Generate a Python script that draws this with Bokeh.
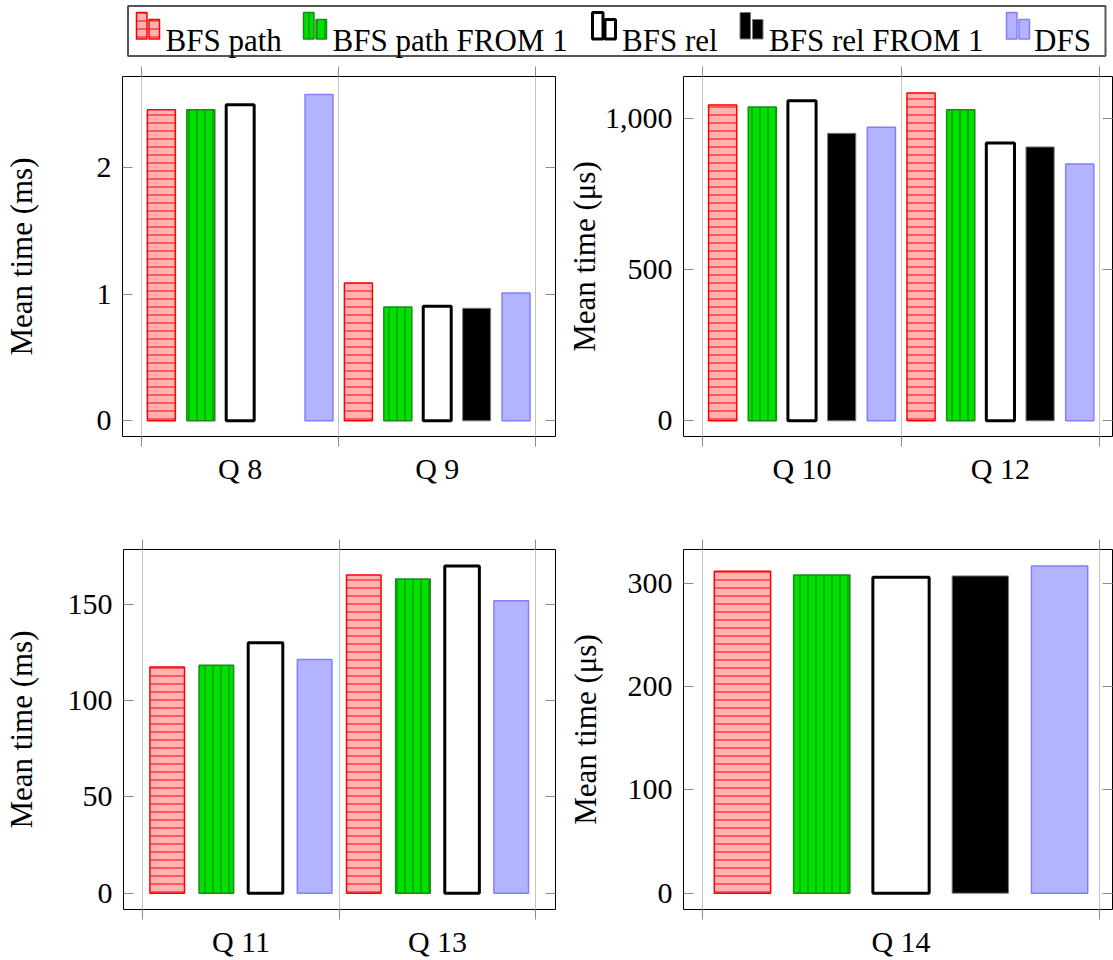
import math

from bokeh.core.properties import value
from bokeh.embed import file_html
from bokeh.layouts import column, row
from bokeh.models import ColumnDataSource, FixedTicker, LinearAxis, NumeralTickFormatter, Range1d
from bokeh.plotting import figure
from bokeh.resources import INLINE

SERIES = ["BFS path", "BFS path FROM 1", "BFS rel", "BFS rel FROM 1", "DFS"]

# Q 8 / Q 9, mean time in ms
q_a = ["Q 8", "Q 9"]
a_bfs_path = [2.46, 1.09]
a_bfs_path_from1 = [2.46, 0.90]
a_bfs_rel = [2.50, 0.905]
a_bfs_rel_from1 = [math.nan, 0.89]
a_dfs = [2.58, 1.01]

# Q 10 / Q 12, mean time in µs
q_b = ["Q 10", "Q 12"]
b_bfs_path = [1044, 1083]
b_bfs_path_from1 = [1037, 1028]
b_bfs_rel = [1058, 918]
b_bfs_rel_from1 = [950, 905]
b_dfs = [970, 849]

# Q 11 / Q 13, mean time in ms
q_c = ["Q 11", "Q 13"]
c_bfs_path = [117.5, 165.4]
c_bfs_path_from1 = [118.4, 163.3]
c_bfs_rel = [130.1, 170.0]
c_dfs = [121.4, 151.9]

# Q 14, mean time in µs
q_d = ["Q 14"]
d_bfs_path = [312]
d_bfs_path_from1 = [308.4]
d_bfs_rel = [306]
d_bfs_rel_from1 = [307.4]
d_dfs = [317]

FONT = "'Liberation Serif', serif"
GRID = "#c4c4c4"
TICK = "#8c8c8c"

STYLE = {
    "BFS path": dict(fill_color="#ffb3b3", line_color="#ff0000", line_width=1.5,
                     hatch_pattern="horizontal_line", hatch_color="#ff0000",
                     hatch_scale=8, hatch_weight=1),
    "BFS path FROM 1": dict(fill_color="#00e100", line_color="#1a8a1a", line_width=1.5,
                            hatch_pattern="vertical_line", hatch_color="#137a13",
                            hatch_scale=8, hatch_weight=1),
    "BFS rel": dict(fill_color="white", line_color="black", line_width=3),
    "BFS rel FROM 1": dict(fill_color="black", line_color="#7a7a7a", line_width=1),
    "DFS": dict(fill_color="#b3b3ff", line_color="#8080ff", line_width=1.5),
}


def panel(cats, series, ylabel, yr, yticks, xr, spacing, bar_w, fig_w, fig_h,
          borders, label_standoff, fmt=None):
    left, right, top, bottom = borders
    p = figure(width=fig_w, height=fig_h, x_range=Range1d(*xr), y_range=Range1d(*yr),
               output_backend="svg", toolbar_location=None,
               min_border_left=left, min_border_right=right,
               min_border_top=top, min_border_bottom=bottom,
               background_fill_color="white", border_fill_color="white")
    p.outline_line_color = "black"
    p.outline_line_width = 1
    p.outline_line_alpha = 1

    idx = list(range(1, len(cats) + 1))
    bounds = [i - 0.5 for i in idx] + [idx[-1] + 0.5]
    n = len(series)
    for k, (name, vals) in enumerate(series):
        off = (k - (n - 1) / 2) * spacing
        pts = [(i + off, v) for i, v in zip(idx, vals) if not math.isnan(v)]
        src = ColumnDataSource(dict(x=[a for a, _ in pts], top=[b for _, b in pts]))
        p.vbar(x="x", top="top", bottom=0, width=bar_w, source=src, **STYLE[name])

    # grid lines at group boundaries only
    p.ygrid.visible = False
    p.xgrid.ticker = FixedTicker(ticks=bounds)
    p.xgrid.grid_line_color = GRID
    p.xgrid.grid_line_width = 1

    xa = p.xaxis[0]
    xa.ticker = FixedTicker(ticks=idx, minor_ticks=bounds)
    xa.major_label_overrides = {i: c for i, c in zip(idx, cats)}
    xa.major_tick_line_color = None
    xa.major_tick_out = 0
    xa.major_tick_in = 0
    xa.minor_tick_out = 10
    xa.minor_tick_in = 0
    xa.minor_tick_line_color = TICK
    xa.axis_line_color = None
    xa.major_label_standoff = 5
    xa.major_label_text_font = FONT
    xa.major_label_text_font_size = "30px"
    xa.major_label_text_color = "black"

    ya = p.yaxis[0]
    ya.ticker = FixedTicker(ticks=yticks)
    if fmt:
        ya.formatter = NumeralTickFormatter(format=fmt)
    ya.major_tick_in = 10
    ya.major_tick_out = 0
    ya.major_tick_line_color = TICK
    ya.minor_tick_line_color = None
    ya.axis_line_color = None
    ya.major_label_standoff = 11
    ya.major_label_text_font = FONT
    ya.major_label_text_font_size = "30px"
    ya.major_label_text_color = "black"
    ya.axis_label = ylabel
    ya.axis_label_text_font = FONT
    ya.axis_label_text_font_size = "31px"
    ya.axis_label_text_font_style = "normal"
    ya.axis_label_text_color = "black"
    ya.axis_label_standoff = label_standoff

    # mirrored ticks on the top and right edges
    top_ax = LinearAxis(ticker=FixedTicker(ticks=[], minor_ticks=bounds),
                        axis_line_color=None, major_tick_line_color=None,
                        minor_tick_out=10, minor_tick_in=0, minor_tick_line_color=TICK,
                        major_label_standoff=0, major_label_text_font_size="0px")
    p.add_layout(top_ax, "above")
    right_ax = LinearAxis(ticker=FixedTicker(ticks=yticks),
                          axis_line_color=None, major_tick_in=10, major_tick_out=0,
                          major_tick_line_color=TICK, minor_tick_line_color=None,
                          major_label_standoff=0, major_label_text_font_size="0px",
                          major_label_overrides={t: "" for t in yticks})
    p.add_layout(right_ax, "right")
    return p


top_h, bot_h = 473, 425
tl = panel(q_a,
           [("BFS path", a_bfs_path), ("BFS path FROM 1", a_bfs_path_from1),
            ("BFS rel", a_bfs_rel), ("BFS rel FROM 1", a_bfs_rel_from1), ("DFS", a_dfs)],
           "Mean time (ms)", (-0.124, 2.7226), [0, 1, 2], (0.4027, 2.6003),
           0.2, 0.142, 563, top_h, (119, 8, 14, 99), 55)
tr = panel(q_b,
           [("BFS path", b_bfs_path), ("BFS path FROM 1", b_bfs_path_from1),
            ("BFS rel", b_bfs_rel), ("BFS rel FROM 1", b_bfs_rel_from1), ("DFS", b_dfs)],
           "Mean time (μs)", (-51.9, 1137.8), [0, 500, 1000], (0.4027, 2.565),
           0.2, 0.142, 550, top_h, (120, 1, 14, 99), 0, fmt="0,0")
bl = panel(q_c,
           [("BFS path", c_bfs_path), ("BFS path FROM 1", c_bfs_path_from1),
            ("BFS rel", c_bfs_rel), ("DFS", c_dfs)],
           "Mean time (ms)", (-8.5, 178.6), [0, 50, 100, 150], (0.4027, 2.6003),
           0.25, 0.176, 563, bot_h, (119, 8, 14, 51), 26)
br = panel(q_d,
           [("BFS path", d_bfs_path), ("BFS path FROM 1", d_bfs_path_from1),
            ("BFS rel", d_bfs_rel), ("BFS rel FROM 1", d_bfs_rel_from1), ("DFS", d_dfs)],
           "Mean time (μs)", (-15.8, 333.0), [0, 100, 200, 300], (0.4513, 1.5335),
           0.2, 0.142, 550, bot_h, (120, 1, 14, 51), 22)

# shared legend strip across the top
leg = figure(width=1113, height=62, x_range=Range1d(0, 1113), y_range=Range1d(62, 0),
             output_backend="svg", toolbar_location=None, min_border=0,
             x_axis_location=None, y_axis_location=None,
             background_fill_color="white", border_fill_color="white")
leg.grid.visible = False
leg.outline_line_color = None
leg.quad(left=[127.5], right=[1105], top=[5.5], bottom=[55.5],
         fill_color=None, line_color="#555555", line_width=2)
icon_x = [136, 303, 592, 739.5, 1006]
text_x = [165, 332, 621.5, 768.5, 1033.5]
for name, x0 in zip(SERIES, icon_x):
    leg.quad(left=[x0, x0 + 12.5], right=[x0 + 10.5, x0 + 23],
             top=[12, 19], bottom=[38.5, 38.5], **STYLE[name])
leg.text(x=text_x, y=[40] * len(SERIES), text=SERIES,
         text_font=value(FONT), text_font_size="31px",
         text_baseline="alphabetic", text_align="left", text_color="black")

layout = column(leg, row(tl, tr), row(bl, br))
open("out.html", "w").write(file_html(layout, INLINE))
